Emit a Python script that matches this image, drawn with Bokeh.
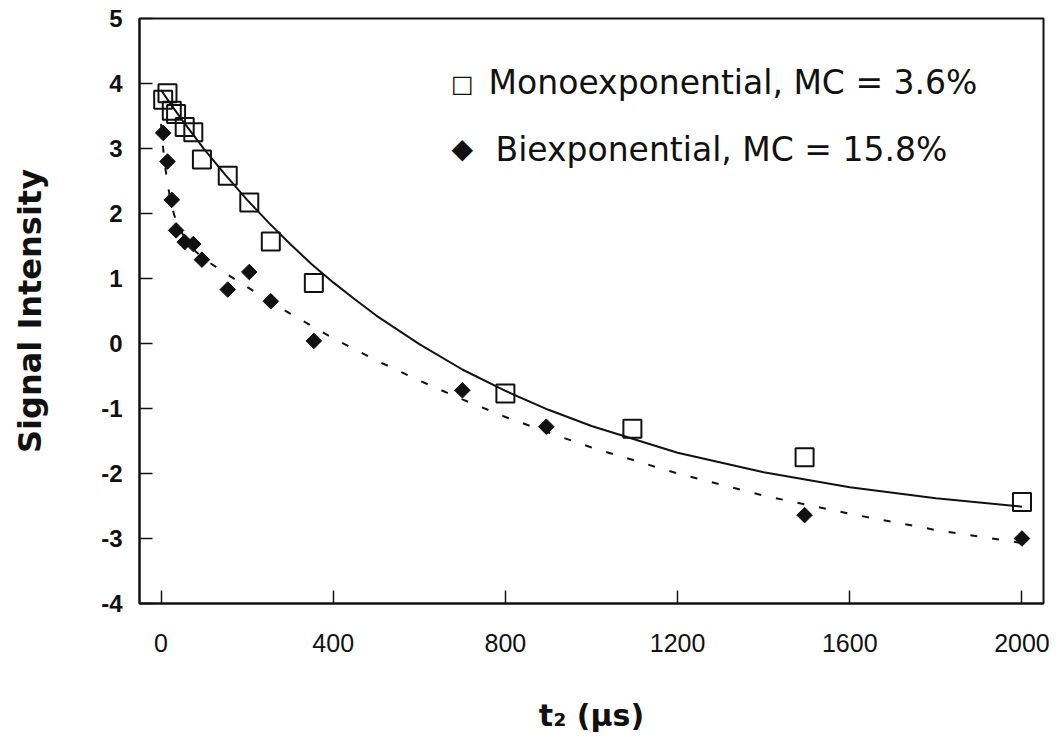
from bokeh.plotting import figure
from bokeh.models import Range1d, FixedTicker, Label
from bokeh.embed import file_html
from bokeh.resources import INLINE
import numpy as np

# ---- data ----
mono_t = [5, 15, 25, 35, 55, 75, 95, 155, 205, 255, 355, 800, 1095, 1495, 2000]
mono_y = [3.75, 3.85, 3.58, 3.53, 3.33, 3.25, 2.83, 2.58, 2.17, 1.57, 0.93, -0.77, -1.31, -1.75, -2.44]

bi_t = [5, 15, 25, 35, 55, 75, 95, 155, 205, 255, 355, 700, 895, 1495, 2000]
bi_y = [3.24, 2.80, 2.21, 1.74, 1.56, 1.53, 1.29, 0.83, 1.10, 0.65, 0.04, -0.72, -1.28, -2.64, -3.00]

mono_fit_t = [0, 25, 50, 75, 100, 150, 200, 250, 300, 350, 400, 450, 500, 600, 700, 800, 900,
              1000, 1200, 1400, 1600, 1800, 2000]
mono_fit_y = [3.90, 3.66, 3.43, 3.21, 2.99, 2.59, 2.21, 1.86, 1.53, 1.22, 0.94, 0.68, 0.43, -0.01,
              -0.40, -0.73, -1.02, -1.27, -1.68, -1.98, -2.21, -2.38, -2.51]

bi_fit_t = [0, 5, 10, 20, 30, 40, 60, 80, 100, 150, 200, 250, 300, 350, 400, 500, 600, 700, 800,
            900, 1000, 1200, 1400, 1600, 1800, 2000]
bi_fit_y = [3.38, 3.00, 2.70, 2.27, 1.99, 1.80, 1.57, 1.42, 1.30, 1.08, 0.87, 0.66, 0.46, 0.27,
            0.08, -0.26, -0.57, -0.86, -1.13, -1.37, -1.60, -2.00, -2.34, -2.62, -2.87, -3.07]

x_ticks = [0, 400, 800, 1200, 1600, 2000]
y_ticks = [-4, -3, -2, -1, 0, 1, 2, 3, 4, 5]

legend_mono = "Monoexponential, MC = 3.6%"
legend_bi = "Biexponential, MC = 15.8%"

INK = "#111111"

p = figure(width=1061, height=746, output_backend="svg", toolbar_location=None,
           x_range=Range1d(-50, 2050), y_range=Range1d(-4, 5),
           min_border_left=139, min_border_right=18, min_border_top=18, min_border_bottom=143,
           frame_width=904, frame_height=585)
p.background_fill_color = "white"
p.border_fill_color = "white"
p.outline_line_color = INK
p.outline_line_width = 2
p.xgrid.visible = False
p.ygrid.visible = False

for ax in (p.xaxis[0], p.yaxis[0]):
    ax.axis_line_color = INK
    ax.axis_line_width = 2
    ax.major_tick_in = 13
    ax.major_tick_out = 0
    ax.major_tick_line_color = INK
    ax.major_tick_line_width = 1.5
    ax.minor_tick_line_color = None

p.xaxis.ticker = FixedTicker(ticks=x_ticks)
p.yaxis.ticker = FixedTicker(ticks=y_ticks)
p.yaxis.major_label_overrides = {t: str(t) for t in y_ticks}

p.xaxis.major_label_text_font = "Liberation Sans"
p.xaxis.major_label_text_font_size = "25px"
p.xaxis.major_label_text_color = INK
p.xaxis.major_label_standoff = 30

p.yaxis.major_label_text_font = "Liberation Sans"
p.yaxis.major_label_text_font_style = "bold"
p.yaxis.major_label_text_font_size = "24px"
p.yaxis.major_label_text_color = INK
p.yaxis.major_label_standoff = 17

p.xaxis.axis_label = "t\u2082 (\u00b5s)"
p.xaxis.axis_label_text_font = "DejaVu Sans"
p.xaxis.axis_label_text_font_style = "bold"
p.xaxis.axis_label_text_font_size = "30px"
p.xaxis.axis_label_text_color = INK
p.xaxis.axis_label_standoff = 43

p.yaxis.axis_label = "Signal Intensity"
p.yaxis.axis_label_text_font = "DejaVu Sans"
p.yaxis.axis_label_text_font_style = "bold"
p.yaxis.axis_label_text_font_size = "32px"
p.yaxis.axis_label_text_color = INK
p.yaxis.axis_label_standoff = 49

# fitted curves
p.line(mono_fit_t, mono_fit_y, line_color=INK, line_width=2)
p.line(bi_fit_t, bi_fit_y, line_color=INK, line_width=2, line_dash="7 15")

# data points
p.scatter(mono_t, mono_y, marker="square", size=18, fill_color=None,
          line_color=INK, line_width=2)
p.scatter(bi_t, bi_y, marker="square", size=11, angle=np.pi / 4,
          fill_color=INK, line_color=INK, line_width=1)

# legend (text symbols like the original)
sym_font = "DejaVu Sans"
p.add_layout(Label(x=700, y=3.985, text="\u25a1", text_font=sym_font, text_font_size="24px",
                   text_align="center", text_baseline="middle", text_color=INK))
p.add_layout(Label(x=761, y=4.015, text=legend_mono, text_font="DejaVu Sans",
                   text_font_size="33px", text_align="left", text_baseline="middle",
                   text_color=INK))
p.add_layout(Label(x=700, y=3.0, text="\u25c6", text_font=sym_font, text_font_size="28px",
                   text_align="center", text_baseline="middle", text_color=INK))
p.add_layout(Label(x=777, y=2.985, text=legend_bi, text_font="DejaVu Sans",
                   text_font_size="33px", text_align="left", text_baseline="middle",
                   text_color=INK))

open("out.html", "w").write(file_html(p, INLINE))
